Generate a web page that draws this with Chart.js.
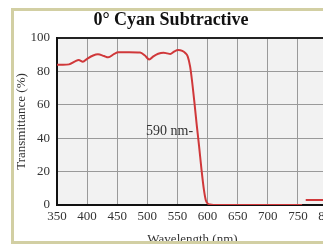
<!DOCTYPE html>
<html lang="en">
<head>
    <meta charset="UTF-8">
    <title>0° Cyan Subtractive</title>
    <script src="https://cdn.jsdelivr.net/npm/chart.js"></script>
    <style>
        html, body {
            margin: 0;
            padding: 0;
            overflow: hidden;
            background: #fff;
        }

        .frame {
            position: absolute;
            left: 11px;
            top: 8px;
            width: 360px;
            height: 230px;
            border: 3px solid #d2cfa3;
            overflow: hidden;
            background: #fff;
        }

        .frame canvas {
            display: block;
        }
    </style>
</head>
<body>

    <div class="frame">
        <canvas id="cyan-chart" width="360" height="236"></canvas>
    </div>

    <script>
        // Transmission curve
        const wavelengths = [350, 360, 370, 380, 386, 393, 400, 410, 418, 428, 435, 445, 452, 470, 488, 496, 503, 510, 518, 527, 533, 538, 545, 551, 558, 563, 567, 571, 574, 578, 582, 586, 590, 594, 597, 600, 604, 610, 650, 700, 750, 757, 760, 763, 790, 800];
        const transmittance = [84, 84, 84.2, 86, 86.8, 85.8, 87.5, 89.5, 90.2, 89.2, 88.4, 90.5, 91.4, 91.5, 91.3, 89.5, 87.2, 89, 90.6, 91.2, 90.8, 90.4, 92, 92.8, 92.3, 91, 89, 83, 75, 62, 48, 35, 21, 9, 3, 1, 0.3, 0, 0, 0, 0, 0, null, 3, 3, 3];

        const xTicks = [350, 400, 450, 500, 550, 600, 650, 700, 750, 800];
        const yTicks = [0, 20, 40, 60, 80, 100];

        const noteText = '590 nm-';
        const noteAt = [576, 44];

        const serif = '"Liberation Serif", "DejaVu Serif", serif';

        // grey plot background + the annotation
        const plotDecor = {
            id: 'plotDecor',
            beforeDraw(chart) {
                const { ctx, chartArea: a } = chart;
                ctx.save();
                ctx.fillStyle = '#f2f2f2';
                ctx.fillRect(a.left, a.top, a.right - a.left, a.bottom - a.top);
                ctx.restore();
            },
            afterDatasetsDraw(chart) {
                const { ctx, scales } = chart;
                ctx.save();
                ctx.font = '14px ' + serif;
                ctx.fillStyle = '#333';
                ctx.textAlign = 'right';
                ctx.textBaseline = 'middle';
                ctx.fillText(noteText, scales.x.getPixelForValue(noteAt[0]), scales.y.getPixelForValue(noteAt[1]));
                ctx.restore();
            }
        };

        const ctx = document.getElementById('cyan-chart').getContext('2d');
        const cyanChart = new Chart(ctx, {
            type: 'line',
            data: {
                datasets: [{
                    data: wavelengths.map((w, i) => ({ x: w, y: transmittance[i] })),
                    borderColor: '#d0383a',
                    borderWidth: 2,
                    pointRadius: 0,
                    fill: false,
                    spanGaps: false,
                    cubicInterpolationMode: 'monotone'
                }]
            },
            options: {
                responsive: false,
                animation: false,
                layout: { padding: { left: 0, right: 46, top: 0, bottom: 0 } },
                scales: {
                    x: {
                        type: 'linear',
                        min: 350, max: 800,
                        afterBuildTicks: s => { s.ticks = xTicks.map(v => ({ value: v })); },
                        afterFit: s => { s.height = 42; },
                        ticks: { font: { family: serif, size: 13 }, color: '#333', padding: 4, maxRotation: 0 },
                        grid: { color: '#9a9a9a', drawTicks: false },
                        border: { color: '#111', width: 2 },
                        title: { display: true, text: 'Wavelength (nm)', font: { family: serif, size: 13 }, color: '#333', padding: 0 }
                    },
                    y: {
                        min: 0, max: 100,
                        afterBuildTicks: s => { s.ticks = yTicks.map(v => ({ value: v })); },
                        afterFit: s => { s.width = 43; },
                        ticks: { font: { family: serif, size: 13 }, color: '#333', padding: 7 },
                        grid: {
                            color: c => c.tick && c.tick.value === 100 ? '#222' : '#9a9a9a',
                            lineWidth: c => c.tick && c.tick.value === 100 ? 2 : 1,
                            drawTicks: false
                        },
                        border: { color: '#111', width: 2 },
                        title: { display: true, text: 'Transmittance (%)', font: { family: serif, size: 13 }, color: '#333', padding: 0 }
                    }
                },
                plugins: {
                    legend: { display: false },
                    tooltip: { enabled: false },
                    title: {
                        display: true,
                        text: '0° Cyan Subtractive',
                        font: { family: serif, size: 18, weight: 'bold', lineHeight: 1 },
                        color: '#111',
                        padding: { top: 0, bottom: 9 }
                    }
                }
            },
            plugins: [plotDecor]
        });
    </script>

</body>
</html>
